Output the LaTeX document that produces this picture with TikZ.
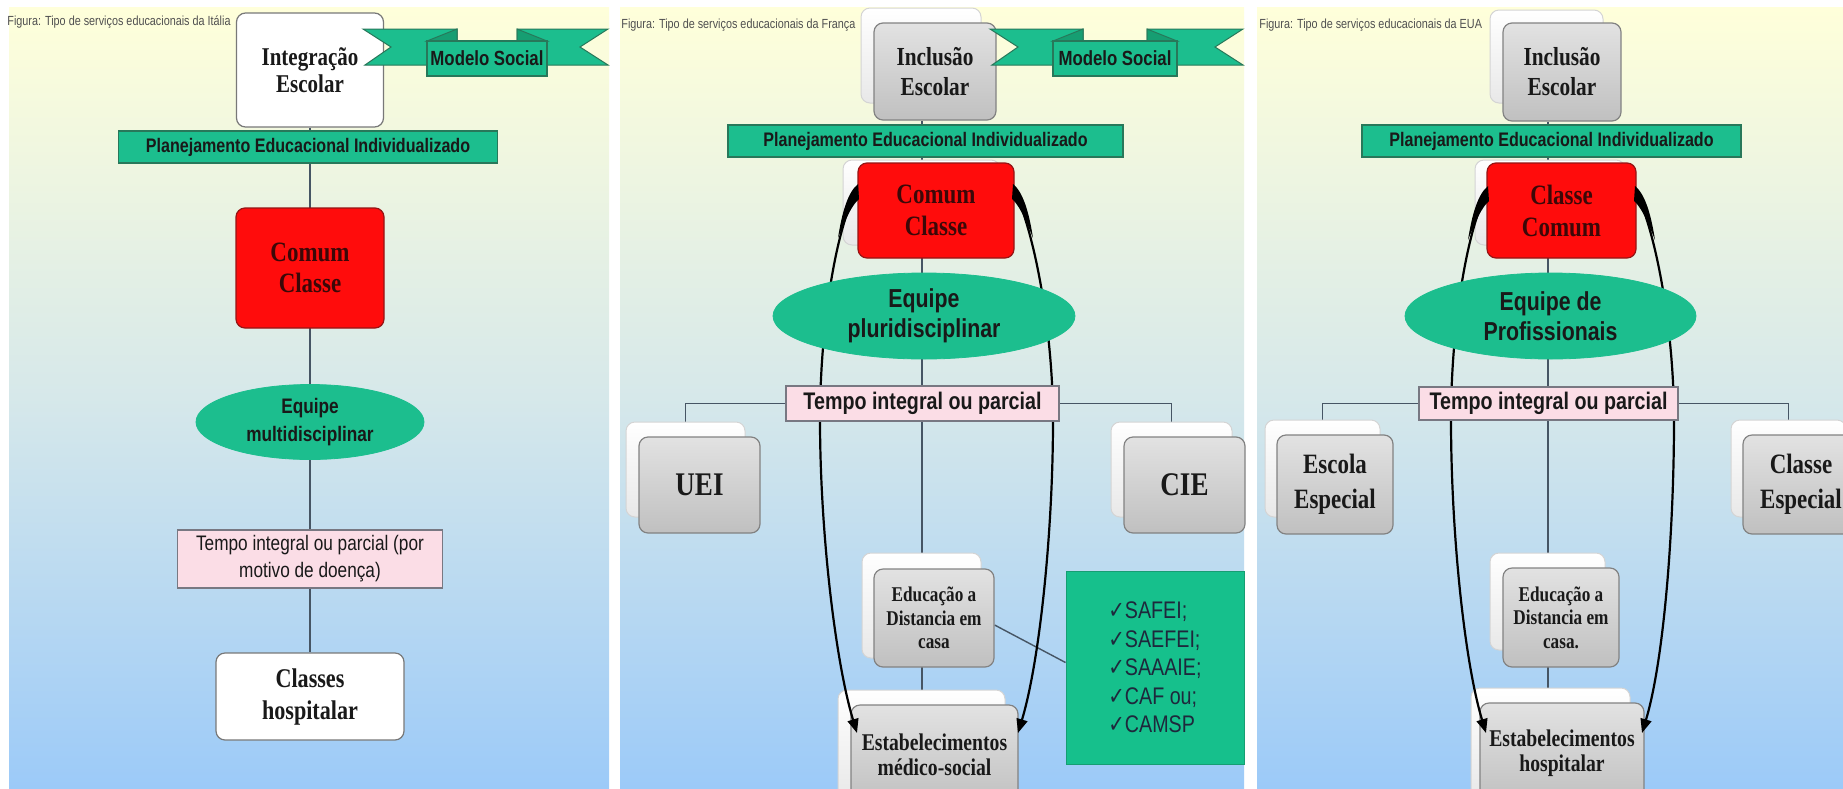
\documentclass[tikz,border=0pt]{standalone}
\usepackage{fontspec}
\setmainfont{Liberation Serif}
\newfontfamily\nsans[FakeStretch=0.82]{Liberation Sans}
\newfontfamily\nserif[FakeStretch=0.82]{Liberation Serif}
\newfontfamily\nsym[FakeStretch=0.82]{DejaVu Sans}
\usetikzlibrary{shapes.geometric,arrows.meta,calc}
\pgfdeclarelayer{panel}\pgfdeclarelayer{bg}\pgfsetlayers{panel,bg,main}
\definecolor{bgtop}{RGB}{255,255,218}
\definecolor{bgmid}{RGB}{214,232,234}
\definecolor{bgbot}{RGB}{156,202,248}
\definecolor{mygreen}{RGB}{28,190,142}
\definecolor{greenborder}{RGB}{40,120,90}
\definecolor{folddark}{RGB}{22,158,114}
\definecolor{myred}{RGB}{255,12,12}
\definecolor{redborder}{RGB}{150,20,20}
\definecolor{redtext}{RGB}{60,8,8}
\definecolor{mypink}{RGB}{251,221,230}
\definecolor{pinkborder}{RGB}{120,120,130}
\definecolor{gtop}{RGB}{226,226,226}
\definecolor{gbot}{RGB}{192,192,192}
\definecolor{gborder}{RGB}{130,130,130}
\definecolor{backbot}{RGB}{232,232,232}
\definecolor{backborder}{RGB}{212,212,212}
\definecolor{boxgray}{RGB}{120,120,120}
\definecolor{linecol}{RGB}{70,85,100}
\definecolor{textdark}{RGB}{25,25,25}
\definecolor{capgray}{RGB}{80,80,80}
\definecolor{listtext}{RGB}{30,40,60}
\definecolor{listgreen}{RGB}{22,192,140}
\newcommand\serb[2]{\nserif\bfseries\fontsize{#1}{#2}\selectfont}
\newcommand\sansb[2]{\nsans\bfseries\fontsize{#1}{#2}\selectfont}
\newcommand\sansr[2]{\nsans\fontsize{#1}{#2}\selectfont}
\newcommand\chk{{\nsym ✓}}
\tikzset{
 px/.style 2 args={minimum width={(#1)*0.5pt}, minimum height={(#2)*0.5pt}},
 wbox/.style={draw=boxgray, fill=white, rounded corners=4.5pt, inner sep=0pt, line width=0.6pt, align=center, text=textdark},
 gbox/.style={draw=gborder, top color=gtop, bottom color=gbot, rounded corners=4.5pt, inner sep=0pt, line width=0.6pt, align=center, text=textdark},
 backbox/.style={draw=backborder, top color=white, bottom color=backbot, rounded corners=4.5pt, inner sep=0pt, line width=0.5pt},
 redbox/.style={draw=redborder, fill=myred, rounded corners=4.5pt, inner sep=0pt, line width=0.6pt, align=center, text=redtext},
 bar/.style={draw=greenborder, fill=mygreen, inner sep=0pt, line width=0.6pt, text=textdark, font=\sansb{9.8}{11}},
 oval/.style={ellipse, fill=mygreen, draw=mygreen, inner sep=0pt, align=center, text=textdark},
 pinkbox/.style={draw=pinkborder, fill=mypink, inner sep=0pt, line width=0.6pt, align=center, text=textdark},
 listbox/.style={draw=folddark, fill=listgreen, inner sep=0pt, line width=0.5pt, align=left, text=listtext},
 conn/.style={draw=linecol, line width=0.7pt},
 curvearrow/.style={draw=black, line width=1.1pt, -{Triangle[length=7pt,width=5.5pt]}},
 caption/.style={anchor=west, inner sep=0pt, text=capgray, font=\sansr{6.6}{8}}
}
\newcommand\mkribbon[5]{%
 \filldraw[fill=mygreen, draw=greenborder, line width=0.5pt] (#1,29) -- (#2+30,29) -- (#2+30,41) -- (#2,41) -- (#2,65) -- (#1+2,65) -- (#1+28,47) -- cycle;
 \filldraw[fill=mygreen, draw=greenborder, line width=0.5pt] (#4,29) -- (#3-30,29) -- (#3-30,41) -- (#3,41) -- (#3,65) -- (#4,65) -- (#4-28,47) -- cycle;
 \filldraw[fill=folddark, draw=greenborder, line width=0.5pt] (#2,41) -- (#2+30,29) -- (#2+30,41) -- cycle;
 \filldraw[fill=folddark, draw=greenborder, line width=0.5pt] (#3,41) -- (#3-30,29) -- (#3-30,41) -- cycle;
 \node[bar, px={#3-#2}{35}, font=\sansb{10.25}{12}] (#5) at ({(#2+#3)/2},58.5) {Modelo Social};
}
\newcommand\blob[3]{\fill[black, shift={(#1,#2)}, xscale=#3] (1,-6) .. controls (-9,2) and (-15,22) .. (-19,48) .. controls (-11,28) and (-5,15) .. (2,9) -- cycle;}
\begin{document}
\begin{tikzpicture}[x=0.5pt,y=-0.5pt]
\useasboundingbox (0,0) rectangle (1843,788);
\begin{pgfonlayer}{panel}
\fill[white] (0,0) rectangle (1843,788);
\shade[top color=bgtop, bottom color=bgbot, middle color=bgmid] (9,7) rectangle (609,788);
\shade[top color=bgtop, bottom color=bgbot, middle color=bgmid] (620,7) rectangle (1244,788);
\shade[top color=bgtop, bottom color=bgbot, middle color=bgmid] (1257,7) rectangle (1843,788);
\end{pgfonlayer}

\node[caption] (cap1) at (7,22) {Figura: Tipo de serviços educacionais da Itália};
\node[caption] (cap2) at (621,25) {Figura: Tipo de serviços educacionais da França};
\node[caption] (cap3) at (1259,25) {Figura: Tipo de serviços educacionais da EUA};

% ---------- Panel 1: Italia
\node[wbox, px={147}{114}, font=\serb{12.8}{13.5}] (int1) at (310,70) {Integração\\Escolar};
\mkribbon{363}{427}{547}{608}{rib1}
\node[bar, px={379}{32}] (plan1) at (308,147) {Planejamento Educacional Individualizado};
\node[redbox, px={148}{120}, font=\serb{14}{15.5}] (red1) at (310,268) {Comum\\Classe};
\node[oval, px={228}{75}, font=\sansb{10.5}{14}] (ell1) at (310,422) {Equipe\\multidisciplinar};
\node[pinkbox, px={265}{58}, font=\sansr{10.5}{13.5}] (pink1) at (310,559) {Tempo integral ou parcial (por\\motivo de doença)};
\node[wbox, px={188}{87}, font=\serb{13.5}{16}] (hosp1) at (310,696.5) {Classes\\hospitalar};

% ---------- Panel 2: Franca
\node[backbox, px={120}{95}] (incl2b) at (921,55.5) {};
\node[gbox, px={122}{97}, font=\serb{13}{15}] (incl2) at (935,71.5) {Inclusão\\Escolar};
\mkribbon{990}{1053}{1177}{1243}{rib2}
\node[backbox, px={157}{85}] (red2b) at (921.5,202.5) {};
\node[bar, px={395}{32}] (plan2) at (925.5,141) {Planejamento Educacional Individualizado};
\node[redbox, px={156}{95}, font=\serb{14}{16}] (red2) at (936,210.5) {Comum\\Classe};
\node[backbox, px={119}{95}] (uei2b) at (685.5,469.5) {};
\node[gbox, px={121}{96}, font=\serb{16.5}{18}] (uei2) at (699.5,485) {UEI};
\node[backbox, px={121}{95}] (cie2b) at (1171.5,469.5) {};
\node[gbox, px={121}{96}, font=\serb{16.5}{18}] (cie2) at (1184.5,485) {CIE};
\node[backbox, px={119}{105}] (edu2b) at (921.5,605.5) {};
\node[gbox, px={120}{98}, font=\serb{10.5}{11.8}] (edu2) at (934,618) {Educação a\\Distancia em\\casa};
\node[listbox, px={178}{193}, font=\sansr{12}{14.25}] (list2) at (1155,667.5) {\chk SAFEI;\\\chk SAEFEI;\\\chk SAAAIE;\\\chk CAF ou;\\\chk CAMSP};
\node[backbox, px={167}{110}] (est2b) at (921.5,745) {};
\node[gbox, px={167}{100}, font=\serb{12}{12.5}] (est2) at (934.5,755) {Estabelecimentos\\médico-social};
\coordinate (s2l) at (857,190);
\coordinate (e2l) at (857,733);
\coordinate (s2r) at (1014,190);
\coordinate (e2r) at (1018,733);
\draw[curvearrow] (s2l) .. controls (835,230) and (820,330) .. (820,420) .. controls (820,530) and (835,660) .. (e2l);
\draw[curvearrow] (s2r) .. controls (1034,230) and (1053,330) .. (1053,420) .. controls (1053,530) and (1040,660) .. (e2r);
\blob{857}{190}{1}
\blob{1014}{190}{-1}
\node[oval, px={302}{86}, font=\sansb{13}{15}] (ell2) at (924,316) {Equipe\\pluridisciplinar};
\node[pinkbox, px={273}{35}, font=\sansb{12}{14}] (pink2) at (922.5,403.5) {Tempo integral ou parcial};

% ---------- Panel 3: EUA
\node[backbox, px={113}{93}] (incl3b) at (1546.5,56.5) {};
\node[gbox, px={118}{98}, font=\serb{13}{15}] (incl3) at (1562,72) {Inclusão\\Escolar};
\node[backbox, px={150}{85}] (red3b) at (1550,202.5) {};
\node[bar, px={379}{32}] (plan3) at (1551.5,141) {Planejamento Educacional Individualizado};
\node[redbox, px={149}{95}, font=\serb{14}{16}] (red3) at (1561.5,210.5) {Classe\\Comum};
\node[backbox, px={115}{97}] (esc3b) at (1322.5,468.5) {};
\node[gbox, px={116}{99}, font=\serb{14}{17.5}] (esc3) at (1335,484.5) {Escola\\Especial};
\node[backbox, px={115}{97}] (cls3b) at (1788.5,468.5) {};
\node[gbox, px={116}{99}, font=\serb{14}{17.5}] (cls3) at (1801,484.5) {Classe\\Especial};
\node[backbox, px={115}{97}] (edu3b) at (1547.5,601.5) {};
\node[gbox, px={116}{99}, font=\serb{10.5}{11.8}] (edu3) at (1561,617.5) {Educação a\\Distancia em\\casa.};
\node[backbox, px={159}{112}] (est3b) at (1550.5,744) {};
\node[gbox, px={164}{100}, font=\serb{12}{12.5}] (est3) at (1562,753) {Estabelecimentos\\hospitalar};
\coordinate (s3l) at (1487,192);
\coordinate (e3l) at (1486,733);
\coordinate (s3r) at (1636,192);
\coordinate (e3r) at (1642,733);
\draw[curvearrow] (s3l) .. controls (1466,232) and (1451,330) .. (1451,420) .. controls (1451,530) and (1464,660) .. (e3l);
\draw[curvearrow] (s3r) .. controls (1656,232) and (1674,330) .. (1674,420) .. controls (1674,530) and (1664,660) .. (e3r);
\blob{1487}{192}{1}
\blob{1636}{192}{-1}
\node[oval, px={291}{86}, font=\sansb{13}{15}] (ell3) at (1550.5,316) {Equipe de\\Profissionais};
\node[pinkbox, px={259}{33}, font=\sansb{12}{14}] (pink3) at (1548.5,403.5) {Tempo integral ou parcial};

% ---------- connectors behind the nodes
\begin{pgfonlayer}{bg}
\coordinate (c2) at (922,0);
\coordinate (c3) at (1548,0);
\draw[conn] (int1.south) -- (hosp1.north);
\draw[conn] (incl2.south -| c2) -- (est2b.north -| c2);
\draw[conn] (pink2.west) -| (uei2b.north);
\draw[conn] (pink2.east) -| (cie2b.north);
\draw[conn] ([yshift=-3.5pt]edu2.east) -- ([yshift=2.5pt]list2.west);
\draw[conn] (incl3.south -| c3) -- (est3b.north -| c3);
\draw[conn] (pink3.west) -| (esc3b.north);
\draw[conn] (pink3.east) -| (cls3b.north);
\end{pgfonlayer}
\end{tikzpicture}
\end{document}
